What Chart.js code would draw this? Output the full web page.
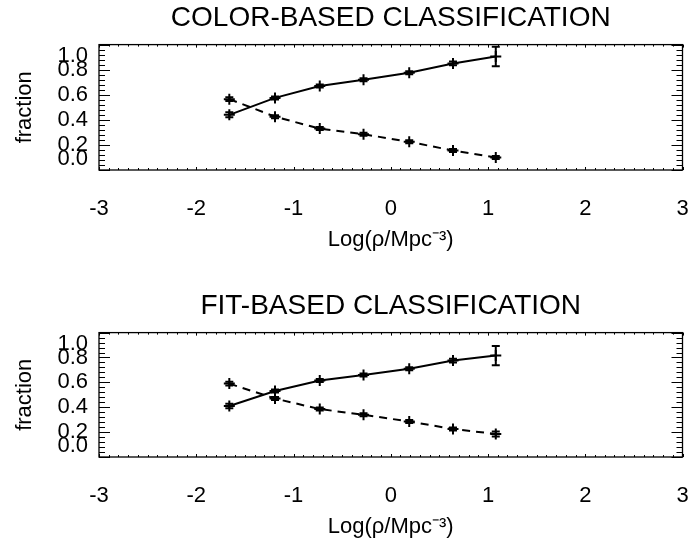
<!DOCTYPE html>
<html>
<head>
<meta charset="utf-8">
<script src="https://cdn.jsdelivr.net/npm/chart.js@4"></script>
<style>
  body { margin: 0; background: #fff; }
  .panel { position: absolute; left: 0; }
</style>
</head>
<body>
<div class="panel" style="top:0"><canvas id="color-chart" width="690" height="258"></canvas></div>
<div class="panel" style="top:288px"><canvas id="fit-chart" width="690" height="255"></canvas></div>
<script>
// log density of each bin
var logRho = [-1.66, -1.19, -0.73, -0.28, 0.19, 0.64, 1.08];

// color-based classification
var colorSolid = [0.44, 0.575, 0.67, 0.72, 0.775, 0.85, 0.905];
var colorSolidErr = [0.02, 0.012, 0.012, 0.012, 0.012, 0.015, 0.078];
var colorDashed = [0.565, 0.425, 0.33, 0.285, 0.225, 0.155, 0.10];
var colorDashedErr = [0.015, 0.012, 0.012, 0.012, 0.012, 0.012, 0.012];

// fit-based classification
var fitSolid = [0.41, 0.53, 0.615, 0.66, 0.71, 0.775, 0.815];
var fitSolidErr = [0.018, 0.012, 0.012, 0.012, 0.012, 0.015, 0.077];
var fitDashed = [0.59, 0.47, 0.385, 0.34, 0.285, 0.225, 0.185];
var fitDashedErr = [0.015, 0.012, 0.012, 0.012, 0.012, 0.012, 0.02];

var xTicks = [-3, -2, -1, 0, 1, 2, 3];
var yTicks = [0.0, 0.2, 0.4, 0.6, 0.8, 1.0];

var FONT = "'Liberation Sans', Arial, Helvetica, sans-serif";
Chart.defaults.color = '#000';
Chart.defaults.font.family = FONT;

function toPoints(xs, ys) {
  return xs.map(function (x, i) { return { x: x, y: ys[i] }; });
}

// box round the plot with inward major / minor ticks, IDL style
var frame = {
  id: 'frame',
  beforeDatasetsDraw: function (chart) {
    var ctx = chart.ctx, a = chart.chartArea;
    var xs = chart.scales.x, ys = chart.scales.y;
    ctx.save();
    ctx.strokeStyle = '#000';
    ctx.lineWidth = 1.3;
    ctx.strokeRect(a.left, a.top, a.right - a.left, a.bottom - a.top);
    ctx.lineWidth = 1;
    ctx.beginPath();
    for (var k = -30; k <= 30; k++) {
      var px = Math.round(xs.getPixelForValue(k / 10)) + 0.5;
      var len = k % 10 === 0 ? 3 : 2;
      ctx.moveTo(px, a.bottom); ctx.lineTo(px, a.bottom - len);
      ctx.moveTo(px, a.top); ctx.lineTo(px, a.top + len);
    }
    for (var j = 0; j <= 25; j++) {
      var py = Math.round(ys.getPixelForValue(j * 0.04)) + 0.5;
      var l2 = j % 5 === 0 ? 11 : 6;
      ctx.moveTo(a.left, py); ctx.lineTo(a.left + l2, py);
      ctx.moveTo(a.right, py); ctx.lineTo(a.right - l2, py);
    }
    ctx.stroke();
    ctx.restore();
  }
};

var errorBars = {
  id: 'errorBars',
  afterDatasetsDraw: function (chart) {
    var ctx = chart.ctx, y = chart.scales.y;
    ctx.save();
    ctx.strokeStyle = '#000';
    ctx.lineWidth = 2;
    chart.data.datasets.forEach(function (ds, i) {
      var meta = chart.getDatasetMeta(i);
      meta.data.forEach(function (pt, j) {
        var v = ds.data[j].y, e = ds.errors[j];
        var t = y.getPixelForValue(v + e), b = y.getPixelForValue(v - e);
        ctx.beginPath();
        ctx.moveTo(pt.x, t); ctx.lineTo(pt.x, b);
        ctx.moveTo(pt.x - 4, t); ctx.lineTo(pt.x + 4, t);
        ctx.moveTo(pt.x - 4, b); ctx.lineTo(pt.x + 4, b);
        ctx.stroke();
      });
    });
    ctx.restore();
  }
};

function makePanel(id, title, solid, solidErr, dashed, dashedErr, xHeight, xTitlePad) {
  new Chart(document.getElementById(id), {
    type: 'line',
    data: {
      datasets: [
        {
          label: 'solid',
          data: toPoints(logRho, solid),
          errors: solidErr,
          borderColor: '#000',
          borderWidth: 2,
          pointStyle: 'cross',
          pointRadius: 5.5,
          pointBorderWidth: 2,
          pointBorderColor: '#000',
          fill: false,
          tension: 0
        },
        {
          label: 'dashed',
          data: toPoints(logRho, dashed),
          errors: dashedErr,
          borderColor: '#000',
          borderWidth: 2,
          borderDash: [8, 6],
          pointStyle: 'cross',
          pointRadius: 5.5,
          pointBorderWidth: 2,
          pointBorderColor: '#000',
          fill: false,
          tension: 0
        }
      ]
    },
    options: {
      responsive: false,
      animation: false,
      layout: { padding: { left: 0, right: 7, top: 0, bottom: 0 } },
      plugins: {
        legend: { display: false },
        tooltip: { enabled: false },
        title: {
          display: true,
          text: title,
          fullSize: false,
          color: '#000',
          font: { size: 28, weight: 'normal', family: FONT },
          padding: { top: 1, bottom: 10 }
        }
      },
      scales: {
        x: {
          type: 'linear',
          min: -3,
          max: 3,
          grid: { display: false, drawTicks: false },
          border: { display: false },
          afterBuildTicks: function (s) { s.ticks = xTicks.map(function (v) { return { value: v }; }); },
          afterFit: function (s) { s.height = xHeight; s.paddingLeft = 0; s.paddingRight = 0; },
          ticks: {
            autoSkip: false,
            maxRotation: 0,
            padding: 26,
            font: { size: 22 },
            callback: function (v) { return String(v); }
          },
          title: {
            display: true,
            text: 'Log(\u03c1/Mpc\u207b\u00b3)',
            font: { size: 22 },
            padding: { top: 0, bottom: xTitlePad }
          }
        },
        y: {
          min: 0,
          max: 1,
          grid: { display: false, drawTicks: false },
          border: { display: false },
          afterBuildTicks: function (s) { s.ticks = yTicks.map(function (v) { return { value: v }; }); },
          afterFit: function (s) { s.width = 99; s.paddingTop = 0; s.paddingBottom = 0; },
          ticks: {
            autoSkip: false,
            padding: 11,
            font: { size: 22, lineHeight: 1.0 },
            callback: function (v) {
              var txt = Number(v).toFixed(1);
              if (Math.abs(v - 1) < 1e-9) return ['', txt];
              if (Math.abs(v) < 1e-9) return [txt, ''];
              return txt;
            }
          },
          title: {
            display: true,
            text: 'fraction',
            font: { size: 22 },
            padding: { top: 12, bottom: 0 }
          }
        }
      }
    },
    plugins: [frame, errorBars]
  });
}

makePanel('color-chart', 'COLOR-BASED CLASSIFICATION',
  colorSolid, colorSolidErr, colorDashed, colorDashedErr, 88, 5);
makePanel('fit-chart', 'FIT-BASED CLASSIFICATION',
  fitSolid, fitSolidErr, fitDashed, fitDashedErr, 86, 3);
</script>
</body>
</html>
